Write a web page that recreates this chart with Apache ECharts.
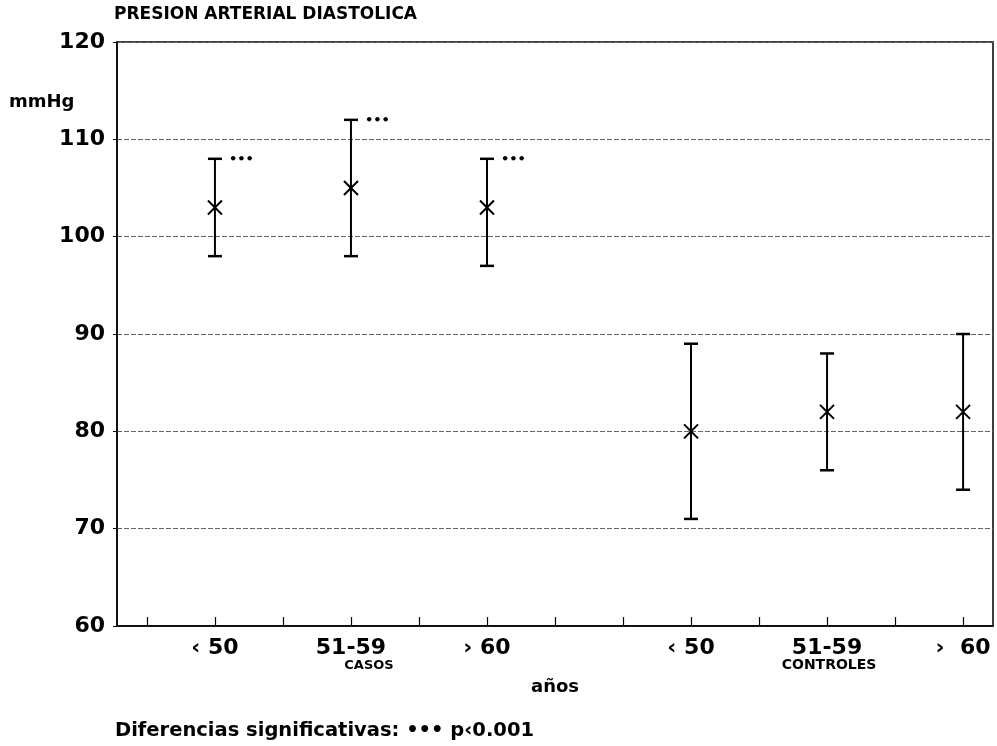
<!DOCTYPE html>
<html>
<head>
<meta charset="utf-8">
<script src="https://cdn.jsdelivr.net/npm/echarts@6/dist/echarts.min.js"></script>
<style>
  html, body { margin: 0; padding: 0; background: #fff; }
  #chart { width: 997px; height: 746px; }
</style>
</head>
<body>
<div id="chart"></div>
<script>
// positions of the groups on the x scale (one unit = one tick)
var xPos = [2, 4, 6, 9, 11, 13];
var ageLabels = ['\u2039 50', '51-59', '\u203a 60', '\u2039 50', '51-59', '\u203a  60'];
var groupNames = ['', 'CASOS', '', '', 'CONTROLES', ''];
var means = [103, 105, 103, 80, 82, 82];
var lows = [98, 98, 97, 71, 76, 74];
var highs = [108, 112, 108, 89, 88, 90];
var signif = ['\u2022\u2022\u2022', '\u2022\u2022\u2022', '\u2022\u2022\u2022', '', '', ''];
var xTicks = [1, 2, 3, 4, 5, 6, 7, 8, 9, 10, 11, 12, 13];

var FONT = '"DejaVu Sans", Verdana, sans-serif';

var data = xPos.map(function(x, i) {
  return [x, means[i], lows[i], highs[i], signif[i]];
});

var chart = echarts.init(document.getElementById('chart'));

chart.setOption({
  backgroundColor: '#fff',
  animation: false,
  grid: {
    left: 117, right: 4, top: 42, bottom: 120,
    show: true, borderColor: '#000', borderWidth: 1.5
  },
  xAxis: {
    type: 'value',
    min: 0.56, max: 13.44,
    name: 'años',
    nameLocation: 'middle',
    nameGap: 52,
    nameTextStyle: { fontFamily: FONT, fontWeight: 'bold', fontSize: 18, color: '#000' },
    axisLine: { show: true, lineStyle: { color: '#000', width: 1.5 } },
    axisTick: { show: true, inside: true, length: 9, customValues: xTicks, lineStyle: { color: '#000', width: 1.2 } },
    axisLabel: {
      customValues: xPos,
      margin: 13,
      formatter: function(v) {
        var i = xPos.indexOf(v);
        if (i < 0) return '';
        if (!groupNames[i]) return ageLabels[i];
        // casos label sits a bit right of centre in the original
        var key = i < 3 ? 's1' : 's2';
        return ageLabels[i] + '\n{' + key + '|' + groupNames[i] + '}';
      },
      fontFamily: FONT, fontWeight: 'bold', fontSize: 22, color: '#000', lineHeight: 19,
      rich: {
        s1: { fontFamily: FONT, fontWeight: 'bold', fontSize: 13, color: '#000', lineHeight: 15, padding: [0, 0, 0, 36] },
        s2: { fontFamily: FONT, fontWeight: 'bold', fontSize: 14, color: '#000', lineHeight: 15, padding: [0, 0, 0, 4] }
      }
    },
    splitLine: { show: false }
  },
  yAxis: {
    type: 'value',
    min: 60, max: 120, interval: 10,
    axisLine: { show: true, lineStyle: { color: '#000', width: 1.5 } },
    axisTick: { show: true, length: 4, lineStyle: { color: '#000' } },
    axisLabel: { fontFamily: FONT, fontWeight: 'bold', fontSize: 22, color: '#000', margin: 12 },
    splitLine: { show: true, lineStyle: { color: '#666', width: 1, type: [5, 2] } }
  },
  graphic: [
    { type: 'text', left: 114, top: 6,
      style: { text: 'PRESION ARTERIAL DIASTOLICA', font: 'bold 17px ' + FONT, fill: '#000' } },
    { type: 'text', left: 9, top: 93,
      style: { text: 'mmHg', font: 'bold 18px ' + FONT, fill: '#000' } },
    { type: 'text', left: 115, top: 721,
      style: { text: 'Diferencias significativas: \u2022\u2022\u2022 p\u20390.001', font: 'bold 19.5px ' + FONT, fill: '#000' } }
  ],
  series: [{
    type: 'custom',
    data: data,
    encode: { x: 0, y: [1, 2, 3] },
    renderItem: function(params, api) {
      var x = api.value(0);
      var pm = api.coord([x, api.value(1)]);
      var pl = api.coord([x, api.value(2)]);
      var ph = api.coord([x, api.value(3)]);
      var cap = 7, m = 7;
      var st = { stroke: '#000', lineWidth: 2 };
      var children = [
        { type: 'line', shape: { x1: pl[0], y1: pl[1], x2: ph[0], y2: ph[1] }, style: st },
        { type: 'line', shape: { x1: pl[0] - cap, y1: pl[1], x2: pl[0] + cap, y2: pl[1] }, style: { stroke: '#000', lineWidth: 2.5 } },
        { type: 'line', shape: { x1: ph[0] - cap, y1: ph[1], x2: ph[0] + cap, y2: ph[1] }, style: { stroke: '#000', lineWidth: 2.5 } },
        { type: 'line', shape: { x1: pm[0] - m, y1: pm[1] - m, x2: pm[0] + m, y2: pm[1] + m }, style: st },
        { type: 'line', shape: { x1: pm[0] - m, y1: pm[1] + m, x2: pm[0] + m, y2: pm[1] - m }, style: st }
      ];
      var s = api.value(4);
      if (s) {
        children.push({ type: 'text', x: ph[0] + 14, y: ph[1] + 1,
          style: { text: s, font: 'bold 13px ' + FONT, fill: '#000', verticalAlign: 'middle' } });
      }
      return { type: 'group', children: children };
    }
  }]
});
</script>
</body>
</html>
